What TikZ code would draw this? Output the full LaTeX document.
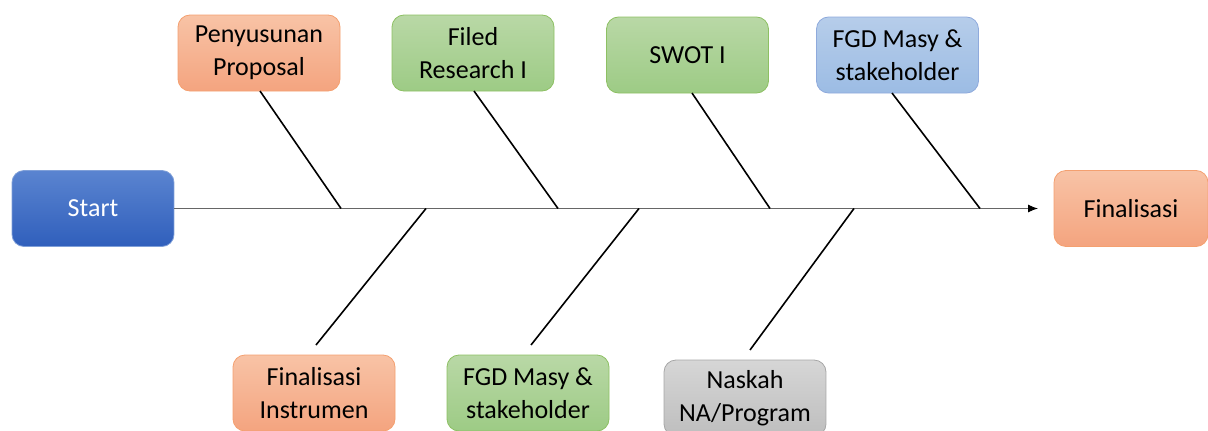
\documentclass[tikz,border=0pt]{standalone}
\usepackage{fontspec}
\setmainfont{Carlito}
\usetikzlibrary{arrows.meta}
\definecolor{orT}{HTML}{F8C3A6}
\definecolor{orB}{HTML}{F4A47F}
\definecolor{orD}{HTML}{F4A070}
\definecolor{grT}{HTML}{B9D8A6}
\definecolor{grB}{HTML}{9DCB85}
\definecolor{grD}{HTML}{8DC063}
\definecolor{blT}{HTML}{B6CDEA}
\definecolor{blB}{HTML}{9CBCE4}
\definecolor{blD}{HTML}{8FAADC}
\definecolor{gyT}{HTML}{D6D6D6}
\definecolor{gyB}{HTML}{BEBEBE}
\definecolor{gyD}{HTML}{A6A6A6}
\definecolor{stT}{HTML}{5A84D0}
\definecolor{stB}{HTML}{305FBC}
\definecolor{stD}{HTML}{7F9FD8}
\tikzset{
  box/.style={rounded corners=12pt, minimum width=162pt, minimum height=76pt,
    align=center, font=\fontsize{26}{33}\selectfont, inner sep=0pt, line width=0.8pt},
  orbox/.style={box, draw=orD, top color=orT, bottom color=orB},
  grbox/.style={box, draw=grD, top color=grT, bottom color=grB},
  blbox/.style={box, draw=blD, top color=blT, bottom color=blB},
  gybox/.style={box, draw=gyD, top color=gyT, bottom color=gyB},
  stbox/.style={box, draw=stD, top color=stT, bottom color=stB, text=white},
  bone/.style={line width=1.6pt, black},
  spine/.style={line width=1pt, gray!80!black, -{Latex[length=10pt,width=8pt,black]}}
}
\begin{document}
\begin{tikzpicture}[x=1pt,y=-1pt]
\useasboundingbox (0,0) rectangle (1208,431);
\node[stbox] (start) at (93,208.5) {Start};
\node[orbox, minimum width=154pt] (fin) at (1131,208.5) {Finalisasi};
\node[orbox] (pp) at (259,53) {Penyusunan\\Proposal};
\node[grbox] (fr) at (473,53) {Filed\\Research I};
\node[grbox] (sw) at (687.5,55) {SWOT I};
\node[blbox] (fgd1) at (897.5,55) {FGD Masy \&\\stakeholder};
\node[orbox] (fi) at (314,393) {Finalisasi\\Instrumen};
\node[grbox] (fgd2) at (528,393) {FGD Masy \&\\stakeholder};
\node[gybox] (nk) at (745,398) {Naskah\\NA/Program};
\coordinate (tip) at (1038,208.5);
\coordinate (j1) at (341,208.5);
\coordinate (j2) at (558,208.5);
\coordinate (j3) at (770,208.5);
\coordinate (j4) at (980,208.5);
\coordinate (k1) at (426,208.5);
\coordinate (k2) at (639,208.5);
\coordinate (k3) at (854,208.5);
\coordinate (e1) at (316,345);
\coordinate (e2) at (531,345);
\coordinate (e3) at (750,350);
\draw[spine] (start.east) -- (tip);
\draw[bone] (260,91) -- (j1);
\draw[bone] (474,91) -- (j2);
\draw[bone] (692,93) -- (j3);
\draw[bone] (892,93) -- (j4);
\draw[bone] (k1) -- (e1);
\draw[bone] (k2) -- (e2);
\draw[bone] (k3) -- (e3);
\end{tikzpicture}
\end{document}
